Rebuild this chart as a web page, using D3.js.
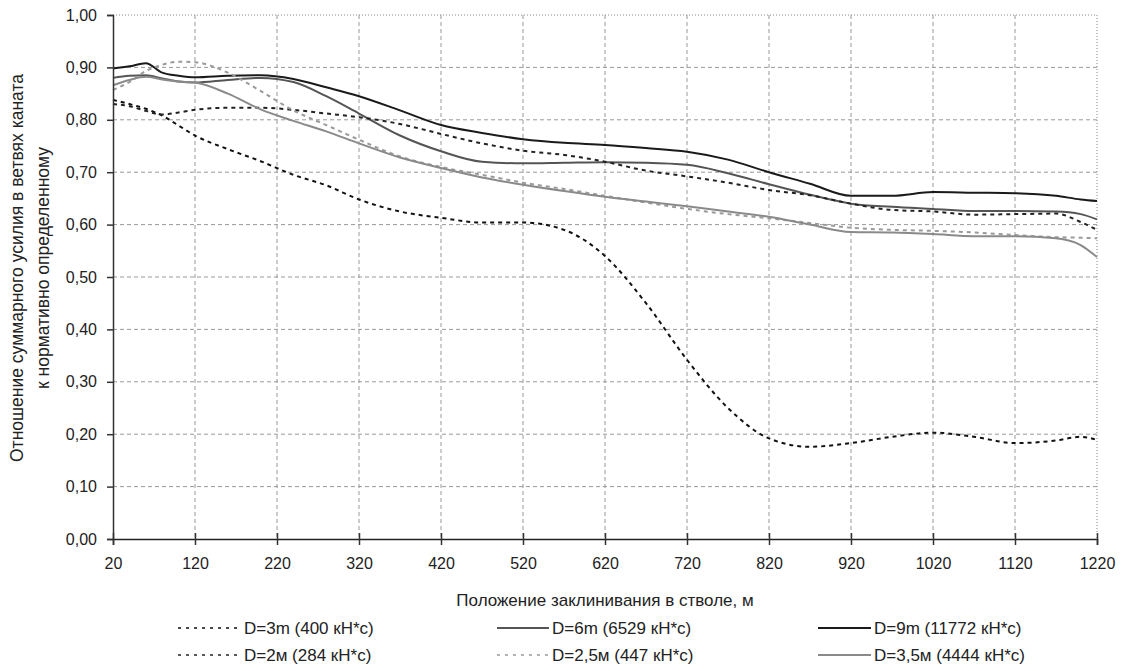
<!DOCTYPE html>
<html><head><meta charset="utf-8">
<script src="https://cdn.jsdelivr.net/npm/d3@7"></script>
<style>
html,body{margin:0;padding:0;background:#fff;}
text{font-family:"Liberation Sans",Arial,sans-serif;fill:#222;}
</style></head>
<body><svg id="c" width="1122" height="671"></svg>
<script>
const positions = [20,40,60,80,100,120,160,200,240,280,320,370,420,470,520,570,620,670,720,770,820,870,920,970,1020,1070,1120,1170,1200,1220];
const d3m  = [0.838,0.830,0.821,0.808,0.789,0.770,0.744,0.721,0.695,0.675,0.648,0.625,0.613,0.604,0.604,0.590,0.540,0.450,0.342,0.250,0.192,0.176,0.183,0.195,0.203,0.195,0.183,0.188,0.195,0.189];
const d6m  = [0.880,0.884,0.885,0.879,0.873,0.871,0.876,0.880,0.872,0.845,0.812,0.770,0.740,0.720,0.717,0.718,0.719,0.718,0.714,0.698,0.677,0.657,0.640,0.634,0.630,0.626,0.626,0.625,0.620,0.610];
const d9m  = [0.898,0.902,0.908,0.890,0.884,0.881,0.884,0.885,0.878,0.862,0.845,0.818,0.790,0.775,0.763,0.756,0.752,0.746,0.739,0.724,0.700,0.678,0.655,0.655,0.662,0.661,0.660,0.655,0.648,0.645];
const d2m  = [0.830,0.826,0.817,0.810,0.814,0.819,0.823,0.823,0.819,0.812,0.805,0.792,0.773,0.755,0.741,0.733,0.720,0.703,0.692,0.680,0.666,0.656,0.640,0.628,0.625,0.619,0.620,0.621,0.605,0.590];
const d25m = [0.857,0.872,0.893,0.905,0.911,0.910,0.890,0.855,0.818,0.790,0.762,0.730,0.710,0.695,0.680,0.668,0.655,0.642,0.630,0.620,0.612,0.603,0.594,0.590,0.588,0.585,0.580,0.576,0.575,0.574];
const d35m = [0.866,0.876,0.882,0.877,0.873,0.871,0.850,0.820,0.798,0.778,0.755,0.728,0.708,0.690,0.676,0.664,0.653,0.644,0.635,0.625,0.615,0.600,0.586,0.585,0.582,0.578,0.578,0.574,0.561,0.538];
const xTicks = [20,120,220,320,420,520,620,720,820,920,1020,1120,1220];
const yTicks = [0,0.1,0.2,0.3,0.4,0.5,0.6,0.7,0.8,0.9,1.0];
const seriesNames = ["D=3m (400 кН*с)","D=6m (6529 кН*с)","D=9m (11772 кН*с)","D=2м (284 кН*с)","D=2,5м (447 кН*с)","D=3,5м (4444 кН*с)"];
const xTitle = "Положение заклинивания в стволе, м";
const yTitle = ["Отношение суммарного усилия в ветвях каната","к нормативно определенному"];

const series = [
  {name:seriesNames[0], v:d3m,  color:"#111", w:2,   dash:"4,4"},
  {name:seriesNames[1], v:d6m,  color:"#555", w:2,   dash:null},
  {name:seriesNames[2], v:d9m,  color:"#1a1a1a", w:2, dash:null},
  {name:seriesNames[3], v:d2m,  color:"#222", w:2,   dash:"4,4"},
  {name:seriesNames[4], v:d25m, color:"#9a9a9a", w:2, dash:"4,4"},
  {name:seriesNames[5], v:d35m, color:"#8a8a8a", w:2, dash:null}
];

const svg = d3.select("#c");
const L=113,R=1097,T=15,B=539;
const x = d3.scaleLinear().domain([20,1220]).range([L,R]);
const y = d3.scaleLinear().domain([0,1]).range([B,T]);
const fmt = v => d3.format(".2f")(v).replace(".",",");

// gridlines
const g = svg.append("g");
g.selectAll(".hg").data(yTicks.filter(v=>v>0 && v<1)).join("line")
 .attr("x1",L).attr("x2",R).attr("y1",d=>y(d)).attr("y2",d=>y(d))
 .attr("stroke","#999").attr("stroke-width",1).attr("stroke-dasharray","4,3");
g.selectAll(".vg").data(xTicks.filter(v=>v>20 && v<1220)).join("line")
 .attr("x1",d=>x(d)).attr("x2",d=>x(d)).attr("y1",T).attr("y2",B)
 .attr("stroke","#999").attr("stroke-width",1).attr("stroke-dasharray","4,3");
g.append("line").attr("x1",L).attr("x2",R).attr("y1",y(1)).attr("y2",y(1))
 .attr("stroke","#888").attr("stroke-dasharray","1,2");
g.append("line").attr("x1",x(1220)).attr("x2",x(1220)).attr("y1",T).attr("y2",B)
 .attr("stroke","#888").attr("stroke-dasharray","1,2");

// lines
const line = d3.line().x((d,i)=>x(positions[i])).y(d=>y(d)).curve(d3.curveMonotoneX);
series.forEach(s=>{
  svg.append("path").attr("d",line(s.v)).attr("fill","none")
    .attr("stroke",s.color).attr("stroke-width",s.w)
    .attr("stroke-dasharray",s.dash);
});

// axes
const ya = d3.axisLeft(y).tickValues(yTicks).tickFormat(fmt).tickSize(6).tickPadding(10);
const yg = svg.append("g").attr("transform",`translate(${L},0)`).call(ya);
yg.select(".domain").attr("stroke","#333").attr("stroke-width",1.5);
yg.selectAll(".tick line").attr("stroke","#333").attr("stroke-width",1.5);
yg.selectAll("text").style("font-size","16px").attr("fill","#222");

const xa = d3.axisBottom(x).tickValues(xTicks).tickFormat(d3.format("d")).tickSize(6).tickPadding(13);
const xg = svg.append("g").attr("transform",`translate(0,${B})`).call(xa);
xg.select(".domain").attr("stroke","#222").attr("stroke-width",1.5);
xg.selectAll(".tick line").attr("y1",-6).attr("stroke","#333").attr("stroke-width",1.5);
xg.selectAll("text").style("font-size","16px").attr("fill","#222");

// titles
svg.append("text").attr("x",(L+R)/2).attr("y",606).attr("text-anchor","middle")
  .style("font-size","17px").text(xTitle);
yTitle.forEach((t,i)=>{
  svg.append("text").attr("transform",`translate(${23+i*26},268) rotate(-90)`)
    .attr("text-anchor","middle").style("font-size","17.5px").text(t);
});

// legend
const cols=[{lx1:178,lx2:240,tx:244},{lx1:497,lx2:549,tx:552},{lx1:818,lx2:871,tx:874}];
const rows=[628,655];
const order=[0,1,2,3,4,5];
order.forEach((si,k)=>{
  const s=series[si], c=cols[k%3], ry=rows[Math.floor(k/3)];
  svg.append("line").attr("x1",c.lx1).attr("x2",c.lx2).attr("y1",ry).attr("y2",ry)
    .attr("stroke",s.color).attr("stroke-width",s.dash?1.5:2).attr("stroke-dasharray",s.dash?"3,5":null);
  svg.append("text").attr("x",c.tx).attr("y",ry+6).style("font-size","17px").text(s.name);
});
</script></body></html>
